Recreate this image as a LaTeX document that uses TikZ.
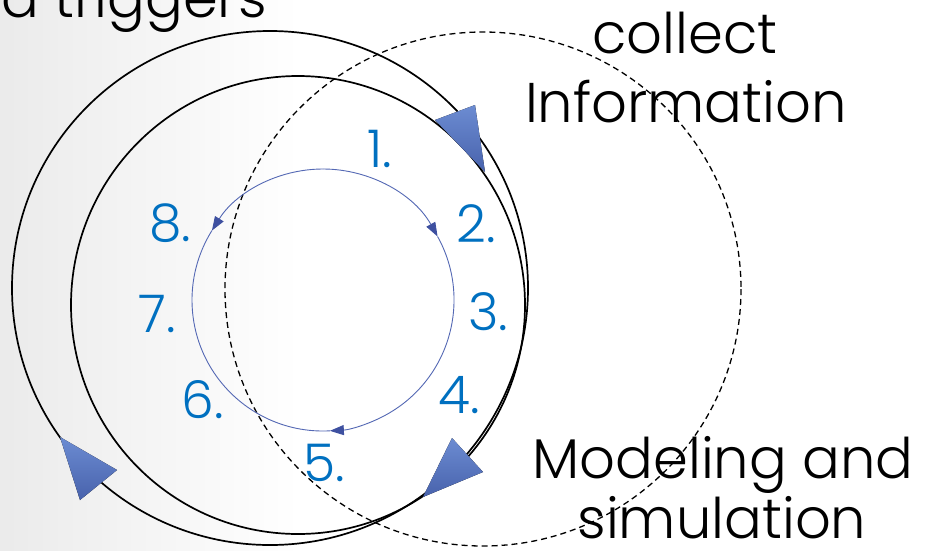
\documentclass[tikz,border=0pt]{standalone}
\usepackage{fontspec}
\setmainfont{Poppins}[UprightFont=* Light]
\usetikzlibrary{arrows.meta,shadows}
\definecolor{numblue}{RGB}{0,112,192}
\definecolor{arcblue}{RGB}{84,104,180}
\definecolor{tipblue}{RGB}{62,80,160}
\definecolor{triA}{RGB}{108,140,210}
\definecolor{triB}{RGB}{72,98,172}
\begin{document}
\begin{tikzpicture}[x=1pt,y=-1pt,
  ring/.style={draw=black, line width=1.7pt},
  dashring/.style={draw=black, line width=1.3pt, dash pattern=on 6pt off 4pt},
  bluearc/.style={draw=arcblue, line width=0.9pt},
  bluetip/.style={-{Triangle[length=14pt,width=10pt,color=tipblue,fill=tipblue]}},
  bigtri/.style={top color=triA, bottom color=triB, draw=none},
  lbl/.style={font=\fontsize{56}{60}\selectfont, inner sep=0pt, anchor=base},
  num/.style={font=\fontsize{52}{56}\selectfont, text=numblue, inner sep=0pt, anchor=base}]

\useasboundingbox (0,0) rectangle (926,550);
\fill[left color=black!8, right color=white] (0,0) rectangle (300,550);
\fill[white] (299.5,0) rectangle (926,550);

% black rings and dashed ring
\draw[ring] (270,288) ellipse [x radius=258, y radius=257];
\draw[ring] (298,305) ellipse [x radius=227, y radius=229];
\draw[dashring] (483,289) ellipse [x radius=258, y radius=257];

% blue inner cycle
\draw[bluearc,bluetip] ([shift={(-90:131)}]323,300) arc[start angle=-90,end angle=-148,radius=131];
\draw[bluearc,bluetip] ([shift={(-90:131)}]323,300) arc[start angle=-90,end angle=-29,radius=131];
\draw[bluearc,bluetip] ([shift={(-29:131)}]323,300) arc[start angle=-29,end angle=87,radius=131];
\draw[bluearc] ([shift={(87:131)}]323,300) arc[start angle=87,end angle=212,radius=131];

% big arrowheads
\fill[bigtri] (435,120) -- (475,105) -- (485,172) -- cycle;
\fill[bigtri] (452,438) -- (483,472) -- (423,497) -- cycle;
\fill[bigtri] (60,437) -- (117,470) -- (80,500) -- cycle;

% labels
\node[lbl, anchor=base east] (trig) at (267,17) {and triggers};
\node[lbl] (collect) at (685,53) {collect};
\node[lbl] (info) at (686,122) {Information};
\node[lbl] (model) at (723,478) {Modeling and};
\node[lbl, text depth=0pt] (sim) at (722,538) {simulation};

% numbers
\node[num] (n1) at (380,167) {1.};
\node[num] (n2) at (476,242) {2.};
\node[num] (n3) at (488,330) {3.};
\node[num] (n4) at (459,413) {4.};
\node[num] (n5) at (324,481) {5.};
\node[num] (n6) at (203,418) {6.};
\node[num] (n7) at (157,332) {7.};
\node[num] (n8) at (170,241) {8.};
\end{tikzpicture}
\end{document}
